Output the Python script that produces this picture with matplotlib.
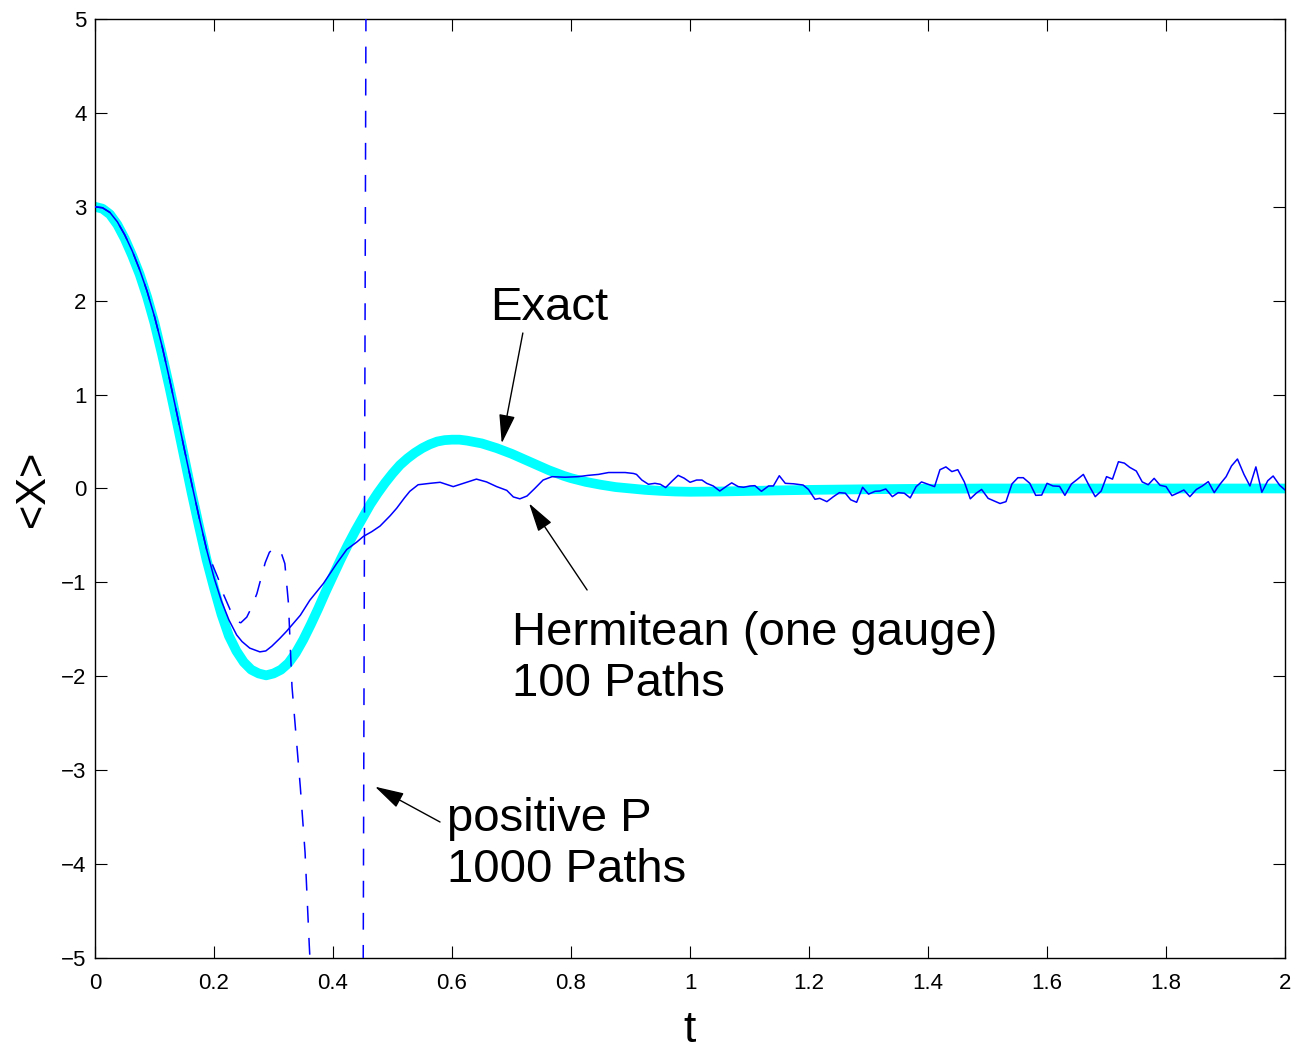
import matplotlib
matplotlib.use("Agg")
import matplotlib.pyplot as plt

plt.rcParams['font.family'] = ['Liberation Sans', 'DejaVu Sans']

# exact solution
t_exact = [0, 0.0125, 0.025, 0.0375, 0.05, 0.0625, 0.075, 0.0875, 0.1, 0.1125, 0.125,
           0.1375, 0.15, 0.1625, 0.175, 0.1875, 0.2, 0.2125, 0.225, 0.2375, 0.25,
           0.2625, 0.275, 0.2875, 0.3, 0.3125, 0.325, 0.3375, 0.35, 0.3625, 0.375,
           0.3875, 0.4, 0.4125, 0.425, 0.4375, 0.45, 0.4625, 0.475, 0.4875, 0.5,
           0.5125, 0.525, 0.5375, 0.55, 0.5625, 0.575, 0.5875, 0.6, 0.6125, 0.625,
           0.6375, 0.65, 0.6625, 0.675, 0.6875, 0.7, 0.7125, 0.725, 0.7375, 0.75,
           0.7625, 0.775, 0.7875, 0.8, 0.825, 0.85, 0.875, 0.9, 0.925, 0.95, 0.975,
           1.0, 1.05, 1.1, 1.15, 1.2, 1.3, 1.4, 1.5, 2.0]
x_exact = [3.0, 2.98, 2.92, 2.81, 2.66, 2.48, 2.28, 2.04, 1.76, 1.43, 1.08,
           0.71, 0.33, -0.05, -0.41, -0.76, -1.06, -1.34, -1.57, -1.73, -1.85,
           -1.93, -1.97, -1.99, -1.97, -1.93, -1.86, -1.75, -1.61, -1.45, -1.28,
           -1.10, -0.93, -0.76, -0.60, -0.45, -0.31, -0.17, -0.05, 0.06, 0.16,
           0.25, 0.32, 0.38, 0.43, 0.47, 0.50, 0.515, 0.52, 0.52, 0.51,
           0.495, 0.48, 0.455, 0.43, 0.40, 0.37, 0.335, 0.30, 0.265, 0.23,
           0.195, 0.165, 0.135, 0.11, 0.07, 0.04, 0.015, 0.0, -0.015, -0.025, -0.032,
           -0.035, -0.032, -0.026, -0.02, -0.015, -0.008, -0.003, 0.0, 0.0]

# Hermitean gauge, 100 paths
t_herm = [0, 0.0125, 0.025, 0.0375, 0.05, 0.0625, 0.075, 0.0875, 0.1, 0.1125, 0.125,
          0.1375, 0.15, 0.1625, 0.175, 0.1875, 0.2, 0.2125, 0.225, 0.238, 0.247,
          0.26, 0.277, 0.287, 0.297, 0.31, 0.322, 0.345, 0.361, 0.384, 0.406, 0.423,
          0.44, 0.451, 0.465, 0.479, 0.496, 0.507, 0.52, 0.529, 0.543, 0.563, 0.58,
          0.602, 0.619, 0.641, 0.658, 0.675, 0.692, 0.703, 0.714, 0.726, 0.739, 0.753,
          0.768, 0.79, 0.812, 0.829, 0.846, 0.863, 0.877, 0.891, 0.905, 0.91, 0.919,
          0.93, 0.941, 0.95, 0.959, 0.97, 0.98, 0.99, 1.0, 1.011, 1.02, 1.028, 1.039,
          1.05, 1.062, 1.07, 1.081, 1.09, 1.101, 1.109, 1.12, 1.132, 1.14, 1.15, 1.16,
          1.174, 1.19, 1.199, 1.21, 1.218, 1.23, 1.241, 1.251, 1.261, 1.27, 1.28, 1.29,
          1.30, 1.311, 1.319, 1.329, 1.34, 1.35, 1.36, 1.37, 1.38, 1.389, 1.40, 1.411,
          1.42, 1.43, 1.44, 1.45, 1.461, 1.471, 1.481, 1.49, 1.501, 1.511, 1.521,
          1.531, 1.541, 1.551, 1.56, 1.571, 1.581, 1.591, 1.60, 1.61, 1.621, 1.63,
          1.641, 1.651, 1.661, 1.671, 1.681, 1.691, 1.70, 1.71, 1.72, 1.73, 1.739,
          1.75, 1.76, 1.77, 1.78, 1.79, 1.80, 1.81, 1.821, 1.83, 1.84, 1.851, 1.861,
          1.871, 1.881, 1.891, 1.901, 1.91, 1.92, 1.931, 1.941, 1.951, 1.961, 1.971,
          1.98, 1.991, 2.0]
x_herm = [3.0, 2.99, 2.94, 2.84, 2.70, 2.53, 2.33, 2.10, 1.83, 1.52, 1.17,
          0.80, 0.42, 0.05, -0.31, -0.65, -0.95, -1.20, -1.40, -1.56, -1.63,
          -1.70, -1.74, -1.73, -1.68, -1.60, -1.52, -1.35, -1.19, -1.01, -0.80, -0.65,
          -0.57, -0.51, -0.46, -0.40, -0.29, -0.21, -0.10, -0.03, 0.04, 0.055, 0.066,
          0.02, 0.055, 0.10, 0.07, 0.02, -0.02, -0.09, -0.11, -0.08, 0.0, 0.09,
          0.126, 0.12, 0.126, 0.14, 0.15, 0.17, 0.17, 0.17, 0.16, 0.15, 0.09,
          0.045, 0.055, 0.045, 0.01, 0.08, 0.14, 0.11, 0.066, 0.09, 0.09, 0.055, 0.027,
          -0.027, 0.027, 0.06, 0.02, 0.013, 0.027, 0.03, -0.03, 0.027, 0.027, 0.136, 0.055,
          0.05, 0.037, -0.01, -0.115, -0.105, -0.14, -0.087, -0.044, -0.05, -0.12, -0.147, 0.013,
          -0.06, -0.03, -0.027, -0.005, -0.087, -0.044, -0.05, -0.1, 0.02, 0.07, 0.045, 0.02,
          0.20, 0.23, 0.18, 0.20, 0.07, -0.11, -0.05, -0.01, -0.105, -0.133, -0.16,
          -0.14, 0.048, 0.115, 0.115, 0.055, -0.073, -0.07, 0.055, 0.027, 0.023, -0.073,
          0.048, 0.098, 0.15, 0.027, -0.087, -0.027, 0.126, 0.10, 0.285, 0.27, 0.225,
          0.186, 0.07, 0.04, 0.108, 0.034, 0.02, -0.076, -0.044, -0.016, -0.087, -0.01, 0.027,
          0.073, -0.044, 0.048, 0.126, 0.24, 0.314, 0.15, 0.027, 0.23, -0.04, 0.083,
          0.133, 0.034, -0.016]

# positive P, 1000 paths (diverges)
t_posp = [0, 0.0125, 0.025, 0.0375, 0.05, 0.0625, 0.075, 0.0875, 0.1, 0.1125, 0.125,
          0.1375, 0.15, 0.1625, 0.175, 0.1875, 0.198, 0.207, 0.216, 0.227,
          0.24, 0.245, 0.255, 0.262, 0.272, 0.286, 0.293, 0.30, 0.311, 0.319, 0.325,
          0.331, 0.345, 0.353, 0.36, 0.37, 0.40, 0.448, 0.458]
x_posp = [3.0, 2.99, 2.94, 2.84, 2.70, 2.53, 2.33, 2.10, 1.83, 1.52, 1.17,
          0.80, 0.42, 0.05, -0.31, -0.65, -0.82, -0.96, -1.13, -1.29,
          -1.42, -1.43, -1.37, -1.28, -1.12, -0.79, -0.68, -0.64, -0.65, -0.80, -1.22,
          -2.11, -3.18, -3.88, -4.86, -6.1, -8.0, -11.0, 11.0]

xticks = [0, 0.2, 0.4, 0.6, 0.8, 1, 1.2, 1.4, 1.6, 1.8, 2]
xtick_labels = ['0', '0.2', '0.4', '0.6', '0.8', '1', '1.2', '1.4', '1.6', '1.8', '2']
yticks = [-5, -4, -3, -2, -1, 0, 1, 2, 3, 4, 5]

fig = plt.figure(figsize=(13.11, 10.57), dpi=100)
ax = fig.add_axes([0.0725, 0.0937, 0.9077, 0.8883])

ax.plot(t_exact, x_exact, color='cyan', linewidth=7, solid_joinstyle='round', zorder=2)
ax.plot(t_herm, x_herm, color='#0000ff', linewidth=1.1, zorder=3)
ax.plot(t_posp, x_posp, color='#0000ff', linewidth=1.1, linestyle=(0, (11, 10)), zorder=3)

ax.set_xlim(0, 2)
ax.set_ylim(-5, 5)
ax.set_xticks(xticks)
ax.set_xticklabels(xtick_labels)
ax.set_yticks(yticks)
ax.tick_params(direction='in', length=8.5, width=0.8, top=True, right=True,
               labelsize=16)
ax.tick_params(axis='x', pad=11)
ax.tick_params(axis='y', pad=6)
for s in ax.spines.values():
    s.set_linewidth(1.0)

ax.set_xlabel('t', fontsize=32, labelpad=11)
ax.set_ylabel('<X>', fontsize=30, labelpad=6)

# annotations (va='baseline' refers to the last line)
fs = 34
ax.text(0.664, 1.794, 'Exact', fontsize=fs, ha='left', va='baseline')
ax.text(0.701, -2.21, 'Hermitean (one gauge)\n100 Paths', fontsize=fs, ha='left',
        va='baseline', linespacing=1.2)
ax.text(0.5916, -4.19, 'positive P\n1000 Paths', fontsize=fs, ha='left',
        va='baseline', linespacing=1.2)

arrow = dict(arrowstyle='-|>,head_length=0.9,head_width=0.25', color='black',
             lw=1.0, mutation_scale=20, shrinkA=0, shrinkB=0)
ax.annotate('', xy=(0.6835, 0.481), xytext=(0.719, 1.656), arrowprops=arrow)
ax.annotate('', xy=(0.7294, -0.158), xytext=(0.827, -1.081), arrowprops=arrow)
ax.annotate('', xy=(0.4706, -3.176), xytext=(0.5798, -3.552), arrowprops=arrow)

fig.savefig('out.png', dpi=100)
